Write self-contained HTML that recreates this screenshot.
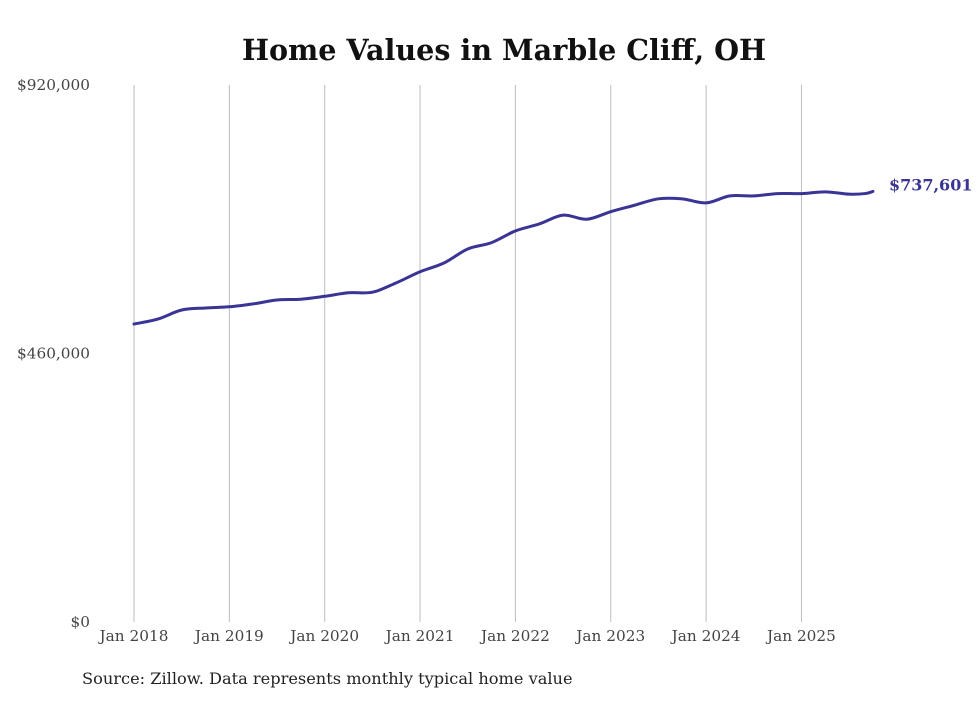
<!DOCTYPE html>
<html><head><meta charset="utf-8"><style>
body{margin:0;background:#fff;}
svg text{font-family:"DejaVu Serif","Liberation Serif",serif;}
</style></head><body>
<svg id="chart" width="980" height="699" xmlns="http://www.w3.org/2000/svg">
<text x="504" y="60" text-anchor="middle" font-size="28.6" font-weight="bold" fill="#111">Home Values in Marble Cliff, OH</text>
<g id="grid"></g><g id="yaxis"></g><g id="xaxis"></g><g id="series"></g>
<text x="82" y="684" font-size="16.2" fill="#222">Source: Zillow. Data represents monthly typical home value</text>
</svg>
<script>
const months=[0,3,6,9,12,15,18,21,24,27,30,33,36,39,42,45,48,51,54,57,60,63,66,69,72,75,78,81,84,87,90,92,93];
const values=[510500,519000,534500,538000,540000,545000,551600,553000,558000,564000,565000,581000,600000,615000,639000,650000,670000,682000,697000,690000,703000,714000,725000,725000,718000,730000,730000,734000,734000,737000,733000,734000,737601];
const yTicks=[0,460000,920000];
const yTickLabels=["$0","$460,000","$920,000"];
const xTickLabels=["Jan 2018","Jan 2019","Jan 2020","Jan 2021","Jan 2022","Jan 2023","Jan 2024","Jan 2025"];
const lastLabel="$737,601";
const NS="http://www.w3.org/2000/svg";
const x=m=>134+m*(95.35/12);
const y=v=>622-v*537/920000;
function mk(t,a,p){const e=document.createElementNS(NS,t);for(const k in a)e.setAttribute(k,a[k]);p.appendChild(e);return e;}
const grid=document.getElementById('grid'),ya=document.getElementById('yaxis'),xa=document.getElementById('xaxis'),se=document.getElementById('series');
xTickLabels.forEach((l,i)=>{
 const gx=x(i*12);
 const ln=mk('line',{x1:gx,x2:gx,y1:85,y2:622,stroke:'#bdbdbd','stroke-width':1},grid);
 
 
 const t=mk('text',{x:gx,y:641,'text-anchor':'middle','font-size':15.3,fill:'#444'},xa);
 t.textContent=l;
 
 
});
yTicks.forEach((v,i)=>{
 const t=mk('text',{x:90,y:y(v)+5,'text-anchor':'end','font-size':15.3,fill:'#444'},ya);
 t.textContent=yTickLabels[i];
 
 
});
const pts=months.map((m,i)=>[x(m),y(values[i])]);
let d='M'+pts[0][0]+','+pts[0][1];
for(let i=0;i<pts.length-1;i++){
 const p0=pts[Math.max(0,i-1)],p1=pts[i],p2=pts[i+1],p3=pts[Math.min(pts.length-1,i+2)];
 const c1=[p1[0]+(p2[0]-p0[0])/6,p1[1]+(p2[1]-p0[1])/6],c2=[p2[0]-(p3[0]-p1[0])/6,p2[1]-(p3[1]-p1[1])/6];
 d+=' C'+c1+' '+c2+' '+p2;
}
const path=mk('path',{d:d,fill:'none',stroke:'#3a3494','stroke-width':3,'stroke-linecap':'round'},se);


const lp=pts[pts.length-1];
const lt=mk('text',{x:lp[0]+16,y:lp[1]-1,'font-size':16,'font-weight':'bold',fill:'#3a3494'},se);
lt.textContent=lastLabel;


</script>
</body></html>
